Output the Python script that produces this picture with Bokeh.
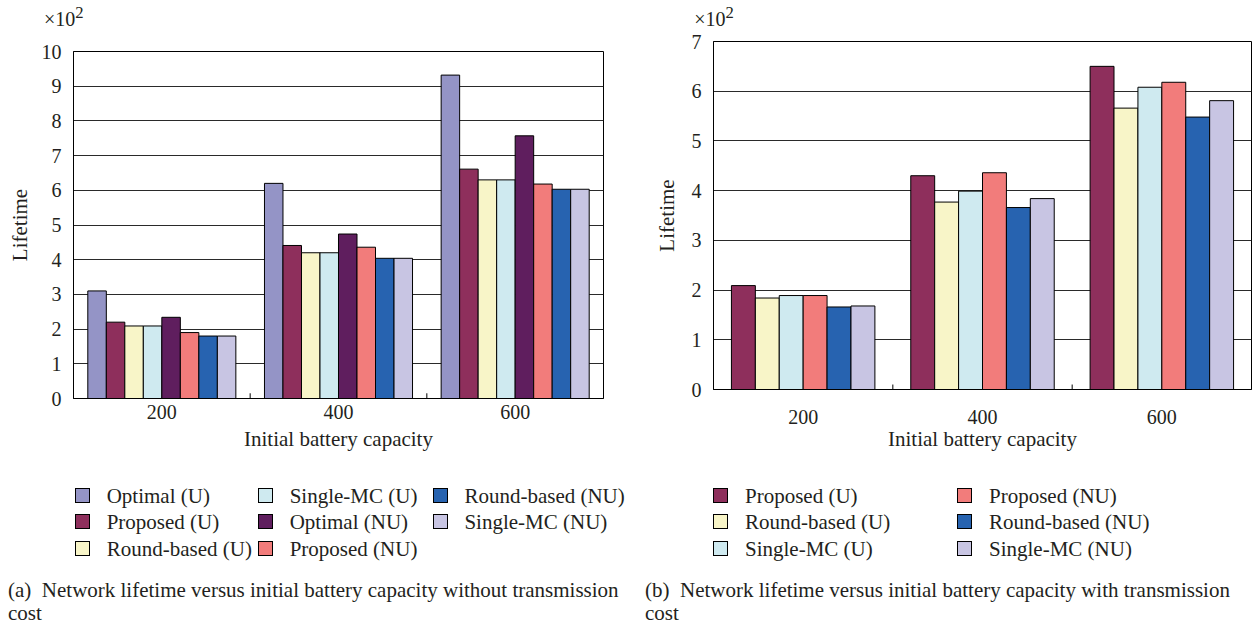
from bokeh.plotting import figure
from bokeh.models import (FactorRange, Range1d, FixedTicker, ColumnDataSource, Div)
from bokeh.transform import dodge
from bokeh.layouts import row, column
from bokeh.embed import file_html
from bokeh.resources import INLINE

# ---------------- data ----------------
capacities = ["200", "400", "600"]

# (a) without transmission cost  (values in x10^2)
series_a = ["Optimal (U)", "Proposed (U)", "Round-based (U)", "Single-MC (U)",
            "Optimal (NU)", "Proposed (NU)", "Round-based (NU)", "Single-MC (NU)"]
optimal_u_a = [3.10, 6.20, 9.32]
proposed_u_a = [2.20, 4.41, 6.61]
round_u_a = [2.09, 4.20, 6.30]
single_u_a = [2.09, 4.20, 6.30]
optimal_nu_a = [2.34, 4.74, 7.57]
proposed_nu_a = [1.90, 4.36, 6.18]
round_nu_a = [1.80, 4.04, 6.03]
single_nu_a = [1.80, 4.04, 6.03]
yticks_a = list(range(0, 11))

# (b) with transmission cost  (values in x10^2)
series_b = ["Proposed (U)", "Round-based (U)", "Single-MC (U)",
            "Proposed (NU)", "Round-based (NU)", "Single-MC (NU)"]
proposed_u_b = [2.09, 4.30, 6.50]
round_u_b = [1.84, 3.77, 5.66]
single_u_b = [1.89, 3.99, 6.08]
proposed_nu_b = [1.89, 4.36, 6.18]
round_nu_b = [1.66, 3.66, 5.48]
single_nu_b = [1.68, 3.84, 5.81]
yticks_b = list(range(0, 8))

multiplier = "\u00d710<sup>2</sup>"
caption_a = ["(a)&nbsp; Network lifetime versus initial battery capacity without transmission", "cost"]
caption_b = ["(b)&nbsp; Network lifetime versus initial battery capacity with transmission", "cost"]

colors = {
    "Optimal (U)": "#9494c6",
    "Proposed (U)": "#8e2f5c",
    "Round-based (U)": "#f8f5c8",
    "Single-MC (U)": "#cfeaf0",
    "Optimal (NU)": "#5f1e5e",
    "Proposed (NU)": "#f27c7b",
    "Round-based (NU)": "#2763b0",
    "Single-MC (NU)": "#c8c5e3",
}

FONT = "Liberation Serif"
TXT = "#231f20"
FS = "20px"
FS_AX = "21px"
FS_LEG = "21px"


def make_chart(names, values, yticks, group_frac, width, height,
               bl, bt, bb, br, sep_len,
               ytick_standoff, ylab_standoff, xtick_standoff, xlab_standoff):
    p = figure(x_range=FactorRange(*capacities),
               y_range=Range1d(yticks[0], yticks[-1]),
               width=width, height=height,
               min_border_left=bl, min_border_top=bt,
               min_border_bottom=bb, min_border_right=br,
               output_backend="svg", toolbar_location=None,
               background_fill_color="white", border_fill_color="white")
    p.outline_line_color = "black"
    p.outline_line_width = 1

    data = {"cap": capacities}
    for i, v in enumerate(values):
        data["s%d" % i] = v
    src = ColumnDataSource(data)

    n = len(names)
    w = group_frac / n
    for i, name in enumerate(names):
        off = (i - (n - 1) / 2.0) * w
        p.vbar(x=dodge("cap", off, range=p.x_range), top="s%d" % i,
               width=w, bottom=0, source=src,
               fill_color=colors[name], line_color="black", line_width=1)

    # small separator ticks between categories on the x-axis
    bounds = list(range(1, len(capacities)))
    p.segment(x0=bounds, x1=bounds, y0=[0] * len(bounds),
              y1=[sep_len] * len(bounds), line_color="black", line_width=1)

    p.yaxis.ticker = FixedTicker(ticks=yticks)
    p.ygrid.ticker = FixedTicker(ticks=yticks)
    p.xgrid.grid_line_color = None
    p.ygrid.grid_line_color = "#2a2a2a"
    p.ygrid.grid_line_width = 1

    for ax in (p.xaxis[0], p.yaxis[0]):
        ax.axis_line_color = "black"
        ax.major_tick_line_color = None
        ax.minor_tick_line_color = None
        ax.major_tick_out = 0
        ax.major_tick_in = 0
        ax.minor_tick_out = 0
        ax.minor_tick_in = 0
        ax.major_label_text_font = FONT
        ax.major_label_text_font_size = FS
        ax.major_label_text_color = TXT
        ax.axis_label_text_font = FONT
        ax.axis_label_text_font_size = FS_AX
        ax.axis_label_text_font_style = "normal"
        ax.axis_label_text_color = TXT
    p.yaxis.axis_label = "Lifetime"
    p.xaxis.axis_label = "Initial battery capacity"
    p.yaxis.major_label_standoff = ytick_standoff
    p.yaxis.axis_label_standoff = ylab_standoff
    p.xaxis.major_label_standoff = xtick_standoff
    p.xaxis.axis_label_standoff = xlab_standoff
    return p


def make_top_div(x, width, height):
    html = ('<div style="position:relative;width:%dpx;height:%dpx;'
            'font-family:\'%s\';font-size:%s;color:%s;">'
            '<div style="position:absolute;left:%.1fpx;top:1px;line-height:23px;'
            'white-space:nowrap;">%s</div></div>'
            % (width, height, FONT, FS, TXT, x, multiplier))
    return Div(text=html, width=width, height=height, margin=0)


def make_legend_div(names, cols, col_x, row_top, row_pitch, text_dx,
                    caption, cap_x, cap_top, width, height):
    parts = ['<div style="position:relative;width:%dpx;height:%dpx;'
             'font-family:\'%s\';font-size:%s;color:%s;line-height:23px;">'
             % (width, height, FONT, FS_LEG, TXT)]
    for col, x in zip(cols, col_x):
        for r, idx in enumerate(col):
            top = row_top + r * row_pitch
            parts.append('<div style="position:absolute;left:%.1fpx;top:%.1fpx;'
                         'width:15px;height:15px;border:1px solid #000;'
                         'background:%s;"></div>' % (x, top, colors[names[idx]]))
            parts.append('<div style="position:absolute;left:%.1fpx;top:%.1fpx;'
                         'white-space:nowrap;">%s</div>'
                         % (x + text_dx, top + 8.5 - 11.5, names[idx]))
    for k, line in enumerate(caption):
        parts.append('<div style="position:absolute;left:%.1fpx;top:%.1fpx;'
                     'white-space:nowrap;">%s</div>' % (cap_x, cap_top + 23 * k, line))
    parts.append('</div>')
    return Div(text="".join(parts), width=width, height=height, margin=0)


TOP_H = 30

ta = make_top_div(44, 645, TOP_H)
pa = make_chart(series_a,
                [optimal_u_a, proposed_u_a, round_u_a, single_u_a,
                 optimal_nu_a, proposed_nu_a, round_nu_a, single_nu_a],
                yticks_a, 0.838, 645, 470 - TOP_H, 73, 51 - TOP_H, 72, 42,
                0.15, 12, 7, 6, 5)
da = make_legend_div(series_a, [[0, 1, 2], [3, 4, 5], [6, 7]],
                     [75, 258, 432.7], 17.7, 26.7, 31.7,
                     caption_a, 8, 108.5, 645, 155)

tb = make_top_div(49.3, 610, TOP_H)
pb = make_chart(series_b,
                [proposed_u_b, round_u_b, single_u_b,
                 proposed_nu_b, round_nu_b, single_nu_b],
                yticks_b, 0.80, 610, 470 - TOP_H, 68, 41 - TOP_H, 81, 4,
                0.1, 12, 10, 20, 0)
db = make_legend_div(series_b, [[0, 1, 2], [3, 4, 5]],
                     [67.7, 311.7], 17.7, 26.7, 32.3,
                     caption_b, 0, 108.5, 610, 155)

layout = row(column(ta, pa, da, spacing=0), column(tb, pb, db, spacing=0), spacing=0)
open("out.html", "w").write(file_html(layout, INLINE))
